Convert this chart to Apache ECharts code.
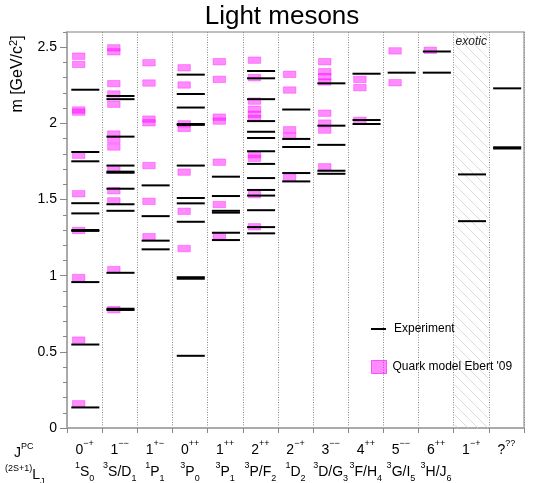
<!DOCTYPE html>
<html><head><meta charset="utf-8">
<script src="https://cdn.jsdelivr.net/npm/echarts@6/dist/echarts.min.js"></script>
<style>html,body{margin:0;padding:0;background:#fff}#c{width:546px;height:483px}</style>
</head><body><div id="c"></div>
<script>
// ---- data ----
const categories = ['0-+','1--','1+-','0++','1++','2++','2-+','3--','4++','5--','6++','1-+','???'];
const jpcBase = ['0','1','1','0','1','2','2','3','4','5','6','1','?'];
const jpcSup  = ['\u2212+','\u2212\u2212','+\u2212','++','++','++','\u2212+','\u2212\u2212','++','\u2212\u2212','++','\u2212+','??'];
const termSup  = ['1','3','1','3','3','3','1','3','3','3','3','',''];
const termBase = ['S','S/D','P','P','P','P/F','D','D/G','F/H','G/I','H/J','',''];
const termSub  = ['0','1','1','0','1','2','2','3','4','5','6','',''];
const yTickValues = [0, 0.5, 1, 1.5, 2, 2.5];
const exoticColumn = 11;

// experimental masses (GeV/c^2), one list per J^PC column
const experimentMasses = [
  [0.135, 0.548, 0.958, 1.294, 1.300, 1.409, 1.476, 1.751, 1.812, 2.221],
  [0.775, 0.783, 1.019, 1.426, 1.469, 1.571, 1.676, 1.683, 1.723, 1.913, 2.159, 2.180],
  [1.173, 1.230, 1.391, 1.593],
  [0.474, 0.980, 0.990, 1.354, 1.475, 1.510, 1.723, 1.990, 1.996, 2.104, 2.193, 2.320],
  [1.234, 1.282, 1.414, 1.426, 1.523, 1.650],
  [1.278, 1.319, 1.430, 1.526, 1.563, 1.641, 1.734, 1.817, 1.904, 1.945, 2.015, 2.159, 2.296, 2.344],
  [1.619, 1.674, 1.845, 1.898, 2.091],
  [1.669, 1.689, 1.859, 1.985, 2.263],
  [1.996, 2.022, 2.326],
  [2.333],
  [2.333, 2.472],
  [1.358, 1.665],
  [1.835, 1.843, 2.230]
];
// quark model (Ebert '09) masses, one list per column
const ebertMasses = [
  [0.159, 0.577, 0.988, 1.297, 1.538, 1.791, 2.074, 2.088, 2.387, 2.441],
  [0.777, 1.040, 1.491, 1.558, 1.704, 1.845, 1.891, 1.930, 2.126, 2.193, 2.261, 2.470, 2.496],
  [1.256, 1.488, 1.723, 2.004, 2.028, 2.265, 2.398],
  [1.178, 1.423, 1.680, 1.967, 1.997, 2.252, 2.365],
  [1.260, 1.467, 1.745, 2.015, 2.041, 2.289, 2.405],
  [1.321, 1.532, 1.771, 1.795, 2.033, 2.060, 2.093, 2.146, 2.300, 2.415],
  [1.645, 1.915, 1.958, 2.219, 2.322],
  [1.715, 1.956, 2.002, 2.067, 2.272, 2.307, 2.339, 2.405],
  [2.020, 2.235, 2.289],
  [2.267, 2.476],
  [2.480],
  [],
  []
];

// ---- build ----
const FONT = 'Liberation Sans, Arial, Helvetica, sans-serif';
const expData = [], modelData = [];
experimentMasses.forEach((arr, i) => arr.forEach(m => expData.push([i, m])));
ebertMasses.forEach((arr, i) => arr.forEach(m => modelData.push([i, m])));
const BOX_HALF = 0.021;
const Y_MAX = 2.6;

const T = 10;
const pc = document.createElement('canvas');
pc.width = T; pc.height = T;
const g = pc.getContext('2d');
g.strokeStyle = '#d2d2d2'; g.lineWidth = 0.8;
g.beginPath();
g.moveTo(0, 0); g.lineTo(T, T);
g.moveTo(-1, T - 1); g.lineTo(1, T + 1);
g.moveTo(T - 1, -1); g.lineTo(T + 1, 1);
g.stroke();

const rich = {
  b: {fontSize: 14, lineHeight: 22, fontFamily: FONT, color: '#000'},
  sp: {fontSize: 9, lineHeight: 13, verticalAlign: 'top', fontFamily: FONT, color: '#000'},
  sb: {fontSize: 9, lineHeight: 12, verticalAlign: 'bottom', fontFamily: FONT, color: '#000'}
};

const chart = echarts.init(document.getElementById('c'), null, {renderer: 'canvas'});
chart.setOption({
  animation: false,
  backgroundColor: '#fff',
  title: {
    text: 'Light mesons', left: 282, top: 4, textAlign: 'center', padding: 0,
    textStyle: {fontSize: 26, fontWeight: 'normal', fontFamily: FONT, color: '#000'}
  },
  grid: {left: 67, right: 22, top: 32, bottom: 52, show: true, borderColor: '#aaa', borderWidth: 1.5},
  xAxis: {
    type: 'category', data: categories, boundaryGap: true,
    axisLine: {lineStyle: {color: '#aaa', width: 2}},
    axisTick: {show: true, length: 5, lineStyle: {color: '#888', width: 1}},
    splitLine: {show: true, lineStyle: {color: '#888', width: 1, type: [1, 1.5]}},
    axisLabel: {
      interval: 0, margin: 11, rich: rich,
      formatter: (v, i) => {
        const l1 = '{b|' + jpcBase[i] + '}{sp|' + jpcSup[i] + '}';
        const l2 = termBase[i] ? '{sp|' + termSup[i] + '}{b|' + termBase[i] + '}{sb|' + termSub[i] + '}' : '{b| }';
        return l1 + '\n' + l2;
      }
    }
  },
  yAxis: [{
    type: 'value', min: yTickValues[0], max: Y_MAX, interval: yTickValues[1] - yTickValues[0], position: 'left',
    axisLine: {show: true, lineStyle: {color: '#aaa', width: 2}},
    axisTick: {show: true, length: 7, lineStyle: {color: '#888', width: 1}},
    axisLabel: {margin: 10, fontSize: 14, fontFamily: FONT, color: '#000', showMaxLabel: false,
      formatter: v => (yTickValues.indexOf(v) >= 0 ? String(v) : '')},
    splitLine: {show: false}
  }, {
    type: 'value', min: 0, max: Y_MAX, interval: 0.1, position: 'left', offset: 0,
    axisLine: {show: true, lineStyle: {color: '#aaa', width: 2, opacity: 0}},
    axisTick: {show: true, length: 4, lineStyle: {color: '#888', width: 1}},
    axisLabel: {show: false},
    splitLine: {show: false}
  }],
  legend: [{
    data: [{name: 'Experiment', icon: 'rect'}],
    left: 366, top: 318, itemWidth: 15, itemHeight: 2, selectedMode: false,
    textStyle: {fontSize: 12, fontFamily: FONT, color: '#000', padding: [0, 0, 0, 3]}
  }, {
    data: [{name: "Quark model Ebert '09", icon: 'rect'}],
    left: 366, top: 355, itemWidth: 15, itemHeight: 13, selectedMode: false,
    itemStyle: {color: 'rgba(255,0,255,0.45)', borderColor: 'rgba(255,0,255,0.6)', borderWidth: 1},
    textStyle: {fontSize: 12, fontFamily: FONT, color: '#000', padding: [0, 0, 0, 1]}
  }],
  graphic: [
    {type: 'text', x: 18, y: 74, rotation: Math.PI / 2,
      style: {text: 'm [GeV/c{s|2}]', fontSize: 16, fontFamily: FONT, fill: '#000', align: 'center', verticalAlign: 'middle', lineHeight: 20,
        rich: {s: {fontSize: 11, lineHeight: 12, verticalAlign: 'top', fontFamily: FONT, fill: '#000'}}}},
    {type: 'text', x: 14, y: 453,
      style: {text: 'J{s|PC}', fontSize: 14, fontFamily: FONT, fill: '#000', verticalAlign: 'middle', lineHeight: 22,
        rich: {s: {fontSize: 9, lineHeight: 13, verticalAlign: 'top', fontFamily: FONT, fill: '#000'}}}},
    {type: 'text', x: 5, y: 475,
      style: {text: '{s|(2S+1)}L{u|J}', fontSize: 14, fontFamily: FONT, fill: '#000', verticalAlign: 'middle', lineHeight: 22,
        rich: {s: {fontSize: 9, lineHeight: 13, verticalAlign: 'top', fontFamily: FONT, fill: '#000'},
               u: {fontSize: 9, lineHeight: 12, verticalAlign: 'bottom', fontFamily: FONT, fill: '#000'}}}}
  ],
  series: [{
    type: 'custom', name: 'exotic', z: 1, silent: true,
    data: [[exoticColumn, Y_MAX]],
    renderItem: (params, api) => {
      const top = api.coord([api.value(0), api.value(1)]);
      const bot = api.coord([api.value(0), 0]);
      const w = api.size([1, 0])[0];
      return {type: 'group', children: [
        {type: 'rect', shape: {x: top[0] - w / 2 + 1, y: top[1], width: w - 2, height: bot[1] - top[1]},
          style: {fill: {image: pc, repeat: 'repeat'}}},
        {type: 'text', style: {text: 'exotic', x: top[0], y: top[1] + 10, align: 'center', verticalAlign: 'middle',
          fontSize: 12, fontStyle: 'italic', fontFamily: FONT, fill: '#222'}}
      ]};
    }
  }, {
    type: 'custom', name: "Quark model Ebert '09", z: 3,
    itemStyle: {color: 'rgba(255,0,255,0.45)', borderColor: 'rgba(255,0,255,0.6)'},
    data: modelData,
    renderItem: (params, api) => {
      const i = api.value(0), m = api.value(1);
      const t = api.coord([i, m + BOX_HALF]);
      const b = api.coord([i, m - BOX_HALF]);
      const w = api.size([1, 0])[0];
      return {type: 'rect', shape: {x: t[0] - 0.345 * w, y: t[1], width: 0.355 * w, height: b[1] - t[1]},
        style: {fill: 'rgba(255,0,255,0.45)', stroke: 'rgba(255,0,255,0.35)', lineWidth: 1}};
    }
  }, {
    type: 'custom', name: 'Experiment', z: 4,
    itemStyle: {color: '#000'},
    data: expData,
    renderItem: (params, api) => {
      const c = api.coord([api.value(0), api.value(1)]);
      const w = api.size([1, 0])[0];
      return {type: 'line', shape: {x1: c[0] - 0.378 * w, y1: c[1], x2: c[0] + 0.42 * w, y2: c[1]},
        style: {stroke: '#000', lineWidth: 2}};
    }
  }]
});
</script>
</body></html>
